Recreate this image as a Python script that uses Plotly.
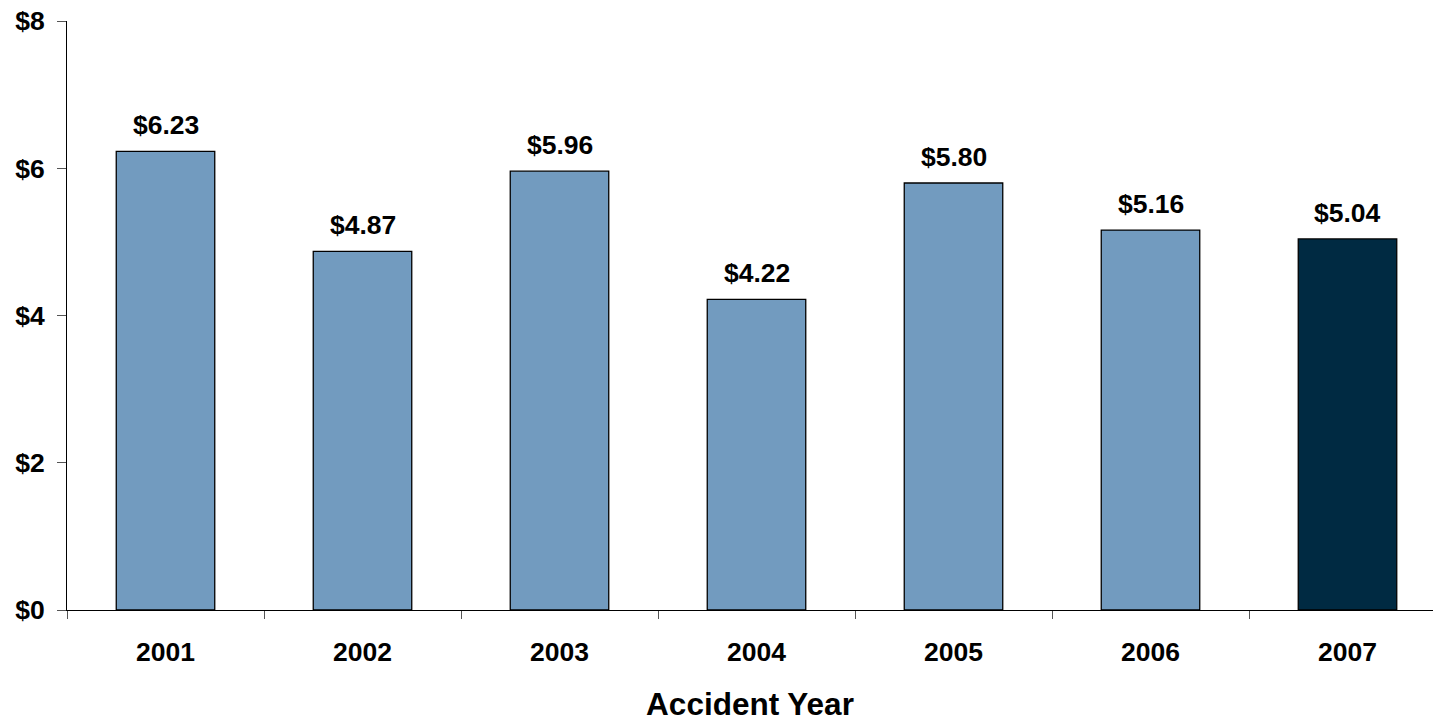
import plotly.graph_objects as go

# Accident-year values (dollars)
years = ["2001", "2002", "2003", "2004", "2005", "2006", "2007"]
values = [6.23, 4.87, 5.96, 4.22, 5.80, 5.16, 5.04]
y_ticks = [0, 2, 4, 6, 8]

LIGHT = "#729BBF"
DARK = "#002A42"
bar_colors = [LIGHT] * (len(years) - 1) + [DARK]

FONT = "Liberation Sans, Arial, sans-serif"
DOLLAR = "&#36;"
LABEL_SIZE = 26.5

fig = go.Figure(
    go.Bar(
        x=years,
        y=values,
        width=0.5,
        marker=dict(color=bar_colors, line=dict(color="#000000", width=1.3)),
        hoverinfo="skip",
    )
)

# value labels above each bar; category axes place annotations by index
for i, v in enumerate(values):
    fig.add_annotation(
        x=i, y=v, xref="x", yref="y",
        text=DOLLAR + f"{v:.2f}", showarrow=False,
        yanchor="bottom", yshift=9,
        font=dict(family=FONT, size=LABEL_SIZE, color="#000000", weight="bold"),
    )

fig.update_layout(
    width=1433, height=724,
    margin=dict(l=67, r=0, t=21, b=114),
    paper_bgcolor="white", plot_bgcolor="white",
    showlegend=False,
    xaxis=dict(
        type="category",
        range=[-0.5, 6.434],
        showline=True, linecolor="#000000", linewidth=1,
        ticks="outside", tickson="boundaries", ticklen=8, tickcolor="#555555",
        tickfont=dict(family=FONT, size=LABEL_SIZE, color="#000000", weight="bold"),
        ticklabelstandoff=18,
        showgrid=False, zeroline=False,
        title=dict(text="Accident Year", standoff=27,
                   font=dict(family=FONT, size=31.5, color="#000000", weight="bold")),
    ),
    yaxis=dict(
        range=[0, 8],
        tickmode="array",
        tickvals=y_ticks,
        ticktext=[DOLLAR + str(t) for t in y_ticks],
        showline=True, linecolor="#000000", linewidth=1,
        ticks="outside", ticklen=9, tickcolor="#555555",
        tickfont=dict(family=FONT, size=LABEL_SIZE, color="#000000", weight="bold"),
        ticklabelstandoff=7,
        showgrid=False, zeroline=False,
    ),
)

fig.write_html("out.html")
